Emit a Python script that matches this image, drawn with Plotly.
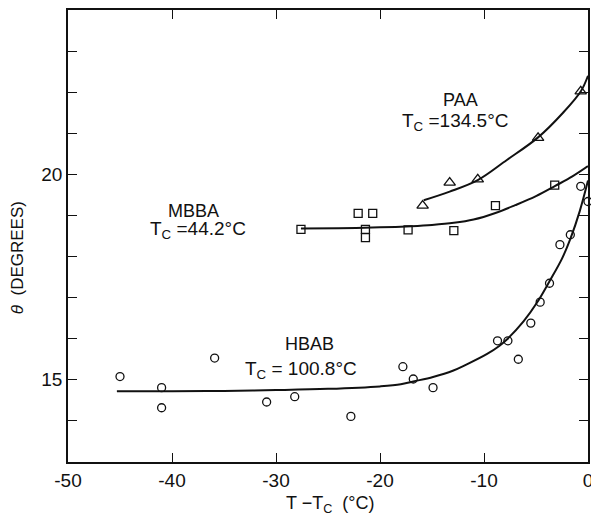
import plotly.graph_objects as go

# ---- data ----
hbab_x = [-45.0, -41.0, -41.0, -35.9, -30.9, -28.2, -22.8, -17.8, -16.8, -14.9,
          -8.7, -7.7, -6.7, -5.5, -4.6, -3.7, -2.7, -1.7, -0.7, 0.0]
hbab_y = [15.08, 14.81, 14.32, 15.53, 14.46, 14.59, 14.11, 15.32, 15.02, 14.81,
          15.95, 15.95, 15.50, 16.38, 16.89, 17.35, 18.29, 18.53, 19.71, 19.34]
hbab_fit_x = [-45.3, -40, -35, -30, -25, -20, -18, -16.8, -14.9, -13, -11.7, -9.7,
              -8.5, -7.8, -6.2, -4.9, -3.7, -2.5, -1.67, -0.8, 0]
hbab_fit_y = [14.72, 14.72, 14.73, 14.75, 14.78, 14.84, 14.89, 14.96, 15.07, 15.22, 15.37,
              15.63, 15.83, 15.98, 16.42, 16.88, 17.4, 17.95, 18.45, 19.1, 19.85]

mbba_x = [-27.6, -22.1, -20.7, -21.4, -21.4, -17.3, -12.9, -8.9, -3.2]
mbba_y = [18.66, 19.05, 19.05, 18.66, 18.46, 18.65, 18.63, 19.24, 19.74]
mbba_fit_x = [-27.6, -24, -20, -17, -15, -12.9, -11, -8.9, -7, -5, -3.15, -1.5, 0]
mbba_fit_y = [18.68, 18.69, 18.71, 18.74, 18.77, 18.82, 18.9, 19.06, 19.25, 19.47,
              19.72, 19.95, 20.2]

paa_x = [-15.9, -13.3, -10.6, -4.8, -0.7]
paa_y = [19.24, 19.80, 19.88, 20.89, 22.02]
paa_fit_x = [-15.8, -13.3, -10.6, -7.8, -4.8, -2.4, -0.67, 0]
paa_fit_y = [19.37, 19.58, 19.86, 20.35, 20.9, 21.5, 22.03, 22.4]

x_ticks = [-50, -40, -30, -20, -10, 0]
x_ticktext = ["-50", "-40", "-30", "-20", "-10", "0"]
y_ticks = [14, 15, 16, 17, 18, 19, 20, 21, 22, 23]
y_ticktext = ["", "15", "", "", "", "", "20", "", "", ""]

FONT = "Liberation Sans, Arial, Helvetica, sans-serif"
BLACK = "#111111"

fig = go.Figure()

for fx, fy in [(hbab_fit_x, hbab_fit_y), (mbba_fit_x, mbba_fit_y), (paa_fit_x, paa_fit_y)]:
    fig.add_trace(go.Scatter(x=fx, y=fy, mode="lines", line=dict(color=BLACK, width=2, shape="spline", smoothing=1.0),
                             hoverinfo="skip", showlegend=False, cliponaxis=False))

fig.add_trace(go.Scatter(x=hbab_x, y=hbab_y, mode="markers", name="HBAB", showlegend=False, cliponaxis=False,
                         marker=dict(symbol="circle-open", size=8, color=BLACK, line=dict(width=1.3))))
fig.add_trace(go.Scatter(x=mbba_x, y=mbba_y, mode="markers", name="MBBA", showlegend=False, cliponaxis=False,
                         marker=dict(symbol="square-open", size=8, color=BLACK, line=dict(width=1.3))))
fig.add_trace(go.Scatter(x=paa_x, y=paa_y, mode="markers", name="PAA", showlegend=False, cliponaxis=False,
                         marker=dict(symbol="triangle-up-open", size=10, color=BLACK, line=dict(width=1.3))))

name_font = dict(family=FONT, size=18, color=BLACK)
tc_font = dict(family=FONT, size=19, color=BLACK)
annotations = [
    dict(x=-12.3, y=21.81, text="PAA", font=name_font),
    dict(x=-12.8, y=21.28, text="T<sub>C</sub> =134.5°C", font=tc_font),
    dict(x=-37.9, y=19.11, text="MBBA", font=name_font),
    dict(x=-37.5, y=18.64, text="T<sub>C</sub> =44.2°C", font=tc_font),
    dict(x=-26.8, y=15.86, text="HBAB", font=name_font),
    dict(x=-27.6, y=15.24, text="T<sub>C</sub> = 100.8°C", font=tc_font),
]
for a in annotations:
    a.update(xref="x", yref="y", showarrow=False, xanchor="center", yanchor="middle")

annotations.append(dict(xref="paper", yref="paper", x=-0.098, y=0.451, text="<i>θ</i>  (DEGREES)",
                        textangle=-90, showarrow=False, font=dict(family=FONT, size=17, color=BLACK),
                        xanchor="center", yanchor="middle"))
annotations.append(dict(xref="paper", yref="paper", x=0.504, y=-0.095, text="T −T<sub>C</sub>  (°C)",
                        showarrow=False, font=dict(family=FONT, size=18, color=BLACK),
                        xanchor="center", yanchor="middle"))

axis_common = dict(ticks="inside", ticklen=9, tickwidth=1.3, tickcolor=BLACK,
                   showline=True, linecolor=BLACK, linewidth=1.5, mirror="ticks",
                   showgrid=False, zeroline=False, automargin=False,
                   ticklabeloverflow="allow",
                   tickfont=dict(family=FONT, size=19, color=BLACK))

fig.update_layout(
    width=591, height=517,
    margin=dict(l=68, r=3, t=10, b=55, autoexpand=False),
    paper_bgcolor="white", plot_bgcolor="white",
    font=dict(family=FONT, size=17, color=BLACK),
    annotations=annotations,
    xaxis=dict(range=[-50, 0], tickmode="array", tickvals=x_ticks, ticktext=x_ticktext, **axis_common),
    yaxis=dict(range=[13, 24], tickmode="array", tickvals=y_ticks, ticktext=y_ticktext, **axis_common),
)

# remove the default page margin so the 591x517 figure fills the window exactly
fig.write_html("out.html", config={"displayModeBar": False},
               post_script="document.body.style.margin='0';document.body.style.overflow='hidden';")
